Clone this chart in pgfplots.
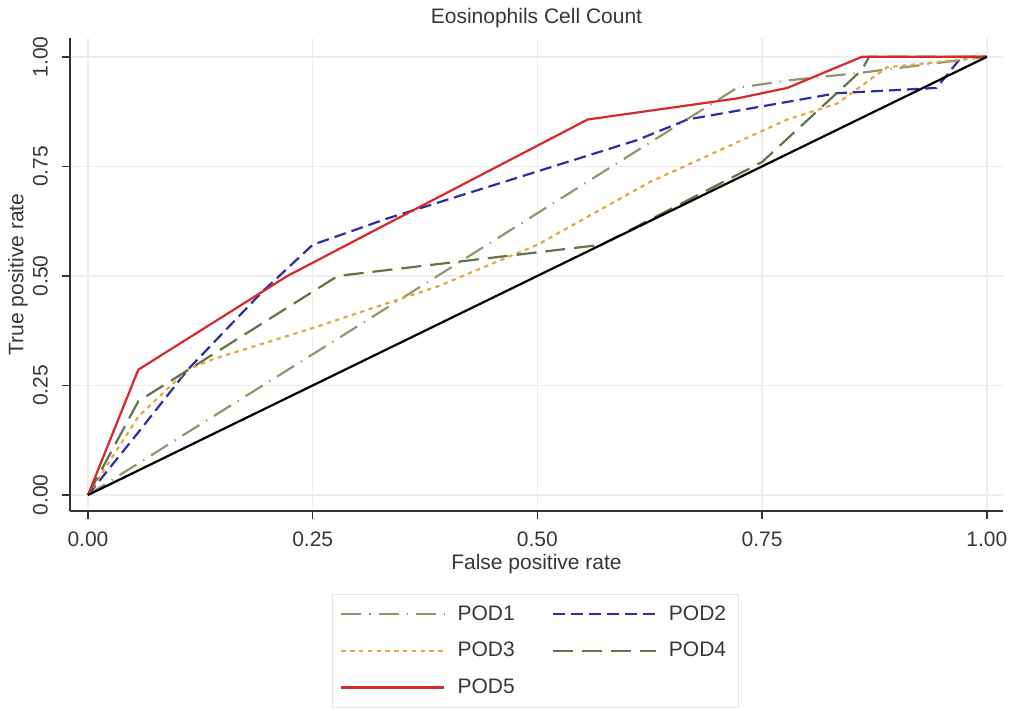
\documentclass[border=0pt]{standalone}
\usepackage{fontspec}
\setmainfont{Liberation Sans}
\usepackage{pgfplots}
\pgfplotsset{compat=1.18}

\definecolor{podA}{RGB}{150,148,112}
\definecolor{podB}{RGB}{45,45,165}
\definecolor{podC}{RGB}{226,168,72}
\definecolor{podD}{RGB}{96,116,72}
\definecolor{podE}{RGB}{218,40,40}
\definecolor{txt}{RGB}{55,55,55}

\newcommand{\lblfont}{\fontsize{10.5}{12.6}\selectfont}

\begin{document}
\begin{tikzpicture}
\useasboundingbox (-35pt,-100pt) rectangle (469.5pt,255.5pt);
\begin{axis}[
  at={(0pt,0pt)}, anchor=south west,
  scale only axis, width=466.5pt, height=236.5pt,
  xmin=-0.02, xmax=1.018, ymin=-0.0365, ymax=1.043,
  axis lines*=left,
  axis line style={black!80, line width=0.8pt, -},
  xtick={0,0.25,0.5,0.75,1}, ytick={0,0.25,0.5,0.75,1},
  xticklabels={0.00,0.25,0.50,0.75,1.00},
  yticklabels={0.00,0.25,0.50,0.75,1.00},
  tick align=outside, major tick length=4pt,
  tick style={black!80, line width=0.8pt},
  grid=major, major grid style={draw=black!7, line width=0.7pt},
  ticklabel style={font=\lblfont, text=txt},
  xticklabel style={yshift=-3pt},
  yticklabel style={anchor=south, rotate=90, yshift=3.5pt},
  title={Eosinophils Cell Count},
  title style={at={(axis description cs:0.5,1.0444)}, anchor=center, yshift=-6.5pt, font=\lblfont, text=txt},
  xlabel={False positive rate},
  xlabel style={at={(axis description cs:0.5,-0.1057)}, anchor=center, yshift=-1.5pt, font=\lblfont, text=txt},
  ylabel={True positive rate},
  ylabel style={at={(axis description cs:-0.0557,0.5)}, anchor=center, font=\lblfont, text=txt},
  legend columns=2,
  legend cell align=left,
  legend image code/.code={\draw[#1] (0pt,0pt) -- (51.5pt,0pt);},
  legend style={at={(axis description cs:0.2808,-0.1755)}, anchor=north west,
    draw=black!10, fill=white, font=\lblfont, text=txt,
    inner xsep=4pt, inner ysep=3.5pt, row sep=5.5pt,
    /tikz/every odd column/.append style={column sep=4pt},
    /tikz/every even column/.append style={column sep=16.5pt}},
  every axis plot/.append style={line width=1.1pt},
]
% POD1: long dash with dot
\addplot[color=podA, dash pattern=on 10pt off 4pt on 0.6pt off 4pt] coordinates {
  (0,0) (0.111,0.143) (0.278,0.357) (0.444,0.571) (0.722,0.929)
  (0.778,0.946) (0.861,0.964) (1,1)};
\addlegendentry{POD1}
% POD2: dashed
\addplot[color=podB, dash pattern=on 6pt off 3pt] coordinates {
  (0,0) (0.056,0.143) (0.111,0.286) (0.194,0.464) (0.25,0.571)
  (0.333,0.631) (0.611,0.810) (0.667,0.857) (0.833,0.917)
  (0.944,0.929) (0.972,1) (1,1)};
\addlegendentry{POD2}
% POD3: dotted
\addplot[color=podC, dash pattern=on 2.2pt off 2.2pt] coordinates {
  (0,0) (0.056,0.179) (0.111,0.286) (0.139,0.31) (0.25,0.381)
  (0.389,0.476) (0.5,0.571) (0.625,0.714) (0.778,0.857)
  (0.833,0.893) (0.889,0.976) (1,1)};
\addlegendentry{POD3}
% POD4: long dash
\addplot[color=podD, dash pattern=on 10pt off 4.5pt] coordinates {
  (0,0) (0.056,0.214) (0.278,0.5) (0.571,0.571) (0.75,0.76)
  (0.861,0.97) (0.869,1) (1,1)};
\addlegendentry{POD4}
% POD5: solid
\addplot[color=podE] coordinates {
  (0,0) (0.056,0.286) (0.222,0.5) (0.333,0.619) (0.556,0.857)
  (0.722,0.905) (0.778,0.929) (0.861,1) (1,1)};
\addlegendentry{POD5}
% reference line
\addplot[color=black, forget plot] coordinates {(0,0) (1,1)};
\end{axis}
\end{tikzpicture}
\end{document}
